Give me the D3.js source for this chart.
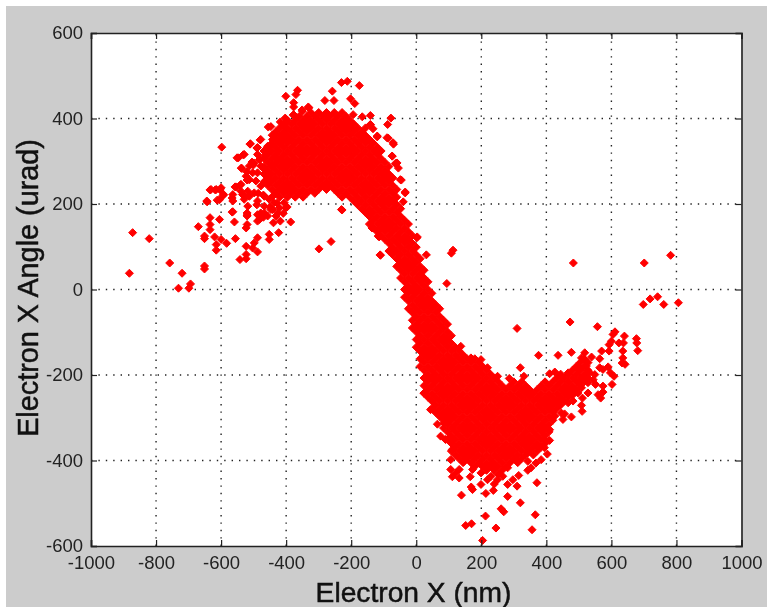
<!DOCTYPE html>
<html>
<head>
<meta charset="utf-8">
<script src="https://cdn.jsdelivr.net/npm/d3@7"></script>
<style>
  html, body { margin: 0; padding: 0; background: #fff; }
  svg { display: block; filter: blur(0.35px); }
</style>
</head>
<body>
<svg id="chart" width="767" height="607"></svg>
<script>
const xTicks = [-1000, -800, -600, -400, -200, 0, 200, 400, 600, 800, 1000];
const yTicks = [-600, -400, -200, 0, 200, 400, 600];

// isolated markers [nm, urad]
const looseX = [-872,-821,-882,-758,-720,-731,-694,-699,-651,-651,-670,-651,-651,-634,-634,-634,-620,-615,-615,-600,-583,-605,-556,-542,-523,-523,-523,-503,-488,-498,-488,-452,-452,-423,-439,-418,-386,-299,-262,-564,-559,-520,-520,-523,-488,-488,-467,-442,-426,-401,-644,-631,-615,-600,-605,-592,-564,-564,-554,-539,-534,-518,-518,-503,-536,-547,-529,-598,-510,-488,-478,-447,-437,-401,-365,-370,-377,-377,-377,-401,-406,-350,-330,-281,-253,-258,-230,-212,-175,-202,-189,-194,-166,-141,-141,-133,-88,-78,-120,-90,-71,-74,-59,-49,-34,-110,-117,-136,2,-230,-643,-634,-618,-603,-612,-594,-566,-566,-557,-541,-532,-520,-505,-538,-551,-532,-511,-480,-490,-501,-520,-486,-470,-490,-449,-520,-470,-443,-409,-397,-428,-455,-443,-418,-403,-378,-351,-332,-141,-120,-86,-70,-74,-64,-55,-46,-34,-40,3,31,-111,-114,-135,-228,94,113,108,698,719,742,761,806,701,782,483,310,473,557,611,605,600,593,623,640,637,677,678,681,635,635,633,642,570,593,564,477,436,376,320,250,286,331,410,426,518,539,508,564,590,597,608,574,549,544,551,602,574,574,559,567,528,511,508,510,482,477,451,456,410,403,394,384,368,343,353,343,315,297,281,310,371,281,320,261,269,366,356,245,213,170,152,204,139,173,169,199,214,237,219,240,166,106,106,132,121,111,132,75,65,137,
  -478,-498,-513,-488,-467,-457,-493,-513,-523,-478,-498,-467,-488,-452,-437,-467,-447,-421,-406,-478,-482,-457,-431,-518,-520,-529,-513,-539,-457,-442,-426,-467,-482,-457,-442,-421,-406,-488,
  446,436,467,497,482,508,528,533,523,518,497,467,426,451,415,508,
  24,44,85,90,111,147,173,199,230,250,266,281,312,343,374,394,410,168,199,219];
const looseY = [133,119,38,62,38,3,13,3,55,48,147,125,119,168,152,140,123,105,92,117,108,164,119,70,72,82,101,97,88,109,121,117,129,133,156,160,158,95,112,182,158,172,152,144,160,175,179,187,179,191,207,234,234,238,210,222,222,207,240,246,222,230,257,273,283,308,316,333,341,332,351,381,363,452,466,456,437,427,409,390,382,417,425,442,442,464,484,487,477,446,435,409,404,407,386,376,386,401,359,355,343,312,296,257,226,80,125,144,121,187,205,233,233,233,209,220,214,181,240,244,221,256,298,284,308,315,340,350,331,291,275,225,221,198,193,174,169,217,178,193,202,380,361,392,401,408,420,427,385,357,354,340,312,295,284,256,228,205,123,81,81,123,144,186,14,92,85,-35,-22,-17,-35,-31,62,80,62,-91,-76,-87,-99,-105,-121,-129,-125,-109,-125,-115,-125,-143,-144,-160,-172,-175,-144,-144,-162,-147,-154,-154,-183,-203,-208,-203,-197,-193,-148,-158,-160,-183,-181,-195,-203,-187,-199,-211,-222,-222,-226,-240,-246,-254,-242,-254,-271,-285,-261,-298,-304,-291,-353,-385,-370,-398,-406,-402,-417,-423,-435,-445,-456,-460,-452,-484,-499,-513,-520,-527,-562,-558,-530,-548,-552,-587,-481,-468,-462,-456,-477,-470,-445,-455,-438,-398,-421,-421,-429,-438,-441,-343,-315,-133,
  289,296,289,273,281,257,254,257,265,242,226,218,207,211,203,195,187,191,203,179,164,172,172,195,179,211,218,230,273,289,304,312,304,335,351,343,359,316,
  -289,-265,-265,-242,-246,-230,-218,-195,-179,-164,-179,-195,-296,-234,-281,-211,
  -242,-281,-312,-351,-374,-402,-421,-429,-437,-445,-437,-417,-402,-382,-367,-351,-328,-160,-164,-183];

// dense core, listed column by column: x in nm, then the angles seen in that column
const coreX = [-468,-456,-444,-432,-420,-408,-396,-384,-372,-360,-348,-336,-324,-312,-300,-288,-276,-264,-252,-240,-228,-216,-204,-192,-180,-168,-156,-144,-132,-120,-108,-96,-84,-72,-60,-48,-36,-24,-12,0,12,24,36,48,60,72,84,96,108,120,132,144,156,168,180,192,204,216,228,240,252,264,276,288,300,312,324,336,348,360,372,384,396,408,420,432,444,456,468,480,492,504,516,528];
const coreY = [
  [252,270,288,306,324],
  [243,261,279,297,315,333],
  [234,252,270,288,306,324,342],
  [225,243,261,279,297,315,333,351,369],
  [216,234,252,270,288,306,324,342,360,378],
  [225,243,261,279,297,315,333,351,369,387],
  [216,234,252,270,288,306,324,342,360,378,396],
  [225,243,261,279,297,315,333,351,369,387],
  [216,234,252,270,288,306,324,342,360,378,396],
  [225,243,261,279,297,315,333,351,369,387,405],
  [216,234,252,270,288,306,324,342,360,378,396],
  [225,243,261,279,297,315,333,351,369,387,405],
  [234,252,270,288,306,324,342,360,378,396,414],
  [225,243,261,279,297,315,333,351,369,387,405],
  [234,252,270,288,306,324,342,360,378,396,414],
  [243,261,279,297,315,333,351,369,387,405],
  [234,252,270,288,306,324,342,360,378,396,414],
  [243,261,279,297,315,333,351,369,387,405],
  [234,252,270,288,306,324,342,360,378,396,414],
  [225,243,261,279,297,315,333,351,369,387,405],
  [216,234,252,270,288,306,324,342,360,378,396,414],
  [225,243,261,279,297,315,333,351,369,387,405],
  [216,234,252,270,288,306,324,342,360,378,396],
  [207,225,243,261,279,297,315,333,351,369,387],
  [198,216,234,252,270,288,306,324,342,360,378],
  [189,207,225,243,261,279,297,315,333,351,369],
  [180,198,216,234,252,270,288,306,324,342,360,378],
  [153,171,189,207,225,243,261,279,297,315,333,351],
  [144,162,180,198,216,234,252,270,288,306,324,342],
  [135,153,171,189,207,225,243,261,279,297,315,333],
  [126,144,162,180,198,216,234,252,270,288,306,324],
  [117,135,153,171,189,207,225,243,261,279,297],
  [90,108,126,144,162,180,198,216,234,252,270,288],
  [81,99,117,135,153,171,189,207,225,243,261],
  [54,72,90,108,126,144,162,180,198,216,234],
  [27,45,63,81,99,117,135,153,171,189],
  [-18,0,18,36,54,72,90,108,126,144,162],
  [-45,-27,-9,9,27,45,63,81,99,117,135,153],
  [-90,-72,-54,-36,-18,0,18,36,54,72,90,108,126],
  [-135,-117,-99,-81,-63,-45,-27,-9,9,27,45,63,81,99],
  [-180,-162,-144,-126,-108,-90,-72,-54,-36,-18,0,18,36,54,72],
  [-243,-225,-207,-189,-171,-153,-135,-117,-99,-81,-63,-45,-27,-9,9,27,45],
  [-252,-234,-216,-198,-180,-162,-144,-126,-108,-90,-72,-54,-36,-18,0,18],
  [-279,-261,-243,-225,-207,-189,-171,-153,-135,-117,-99,-81,-63,-45,-27,-9],
  [-288,-270,-252,-234,-216,-198,-180,-162,-144,-126,-108,-90,-72,-54,-36],
  [-297,-279,-261,-243,-225,-207,-189,-171,-153,-135,-117,-99,-81,-63,-45],
  [-324,-306,-288,-270,-252,-234,-216,-198,-180,-162,-144,-126,-108,-90,-72],
  [-351,-333,-315,-297,-279,-261,-243,-225,-207,-189,-171,-153,-135,-117,-99,-81],
  [-378,-360,-342,-324,-306,-288,-270,-252,-234,-216,-198,-180,-162,-144,-126,-108],
  [-387,-369,-351,-333,-315,-297,-279,-261,-243,-225,-207,-189,-171,-153,-135],
  [-396,-378,-360,-342,-324,-306,-288,-270,-252,-234,-216,-198,-180,-162,-144],
  [-405,-387,-369,-351,-333,-315,-297,-279,-261,-243,-225,-207,-189,-171,-153],
  [-396,-378,-360,-342,-324,-306,-288,-270,-252,-234,-216,-198,-180,-162],
  [-405,-387,-369,-351,-333,-315,-297,-279,-261,-243,-225,-207,-189,-171],
  [-414,-396,-378,-360,-342,-324,-306,-288,-270,-252,-234,-216,-198,-180,-162],
  [-405,-387,-369,-351,-333,-315,-297,-279,-261,-243,-225,-207,-189,-171],
  [-414,-396,-378,-360,-342,-324,-306,-288,-270,-252,-234,-216,-198,-180],
  [-423,-405,-387,-369,-351,-333,-315,-297,-279,-261,-243,-225,-207,-189],
  [-414,-396,-378,-360,-342,-324,-306,-288,-270,-252,-234,-216,-198],
  [-423,-405,-387,-369,-351,-333,-315,-297,-279,-261,-243,-225,-207],
  [-432,-414,-396,-378,-360,-342,-324,-306,-288,-270,-252,-234,-216],
  [-423,-405,-387,-369,-351,-333,-315,-297,-279,-261,-243,-225],
  [-414,-396,-378,-360,-342,-324,-306,-288,-270,-252,-234],
  [-405,-387,-369,-351,-333,-315,-297,-279,-261,-243,-225],
  [-396,-378,-360,-342,-324,-306,-288,-270,-252,-234,-216],
  [-405,-387,-369,-351,-333,-315,-297,-279,-261,-243,-225],
  [-396,-378,-360,-342,-324,-306,-288,-270,-252,-234,-216],
  [-387,-369,-351,-333,-315,-297,-279,-261,-243,-225],
  [-378,-360,-342,-324,-306,-288,-270,-252,-234],
  [-387,-369,-351,-333,-315,-297,-279,-261,-243],
  [-378,-360,-342,-324,-306,-288,-270,-252,-234],
  [-369,-351,-333,-315,-297,-279,-261,-243,-225],
  [-360,-342,-324,-306,-288,-270,-252,-234,-216],
  [-333,-315,-297,-279,-261,-243,-225],
  [-306,-288,-270,-252,-234,-216],
  [-279,-261,-243,-225,-207],
  [-270,-252,-234,-216,-198],
  [-261,-243,-225,-207],
  [-252,-234,-216,-198],
  [-243,-225,-207,-189],
  [-234,-216,-198,-180],
  [-225,-207,-189,-171],
  [-216,-198,-180,-162],
  [-207,-189,-171]
];

const width = 767, height = 607;
const svg = d3.select('#chart');

// grey figure background, the picture has a thin white strip top and left
svg.append('rect').attr('x', 6).attr('y', 6).attr('width', width - 6).attr('height', height - 6).attr('fill', '#cccccc');

const xScale = d3.scaleLinear().domain([-1000, 1000]).range([91, 741.5]);
const yScale = d3.scaleLinear().domain([-600, 600]).range([546, 33]);

const g = svg.append('g');

g.append('rect')
  .attr('x', xScale.range()[0])
  .attr('y', yScale.range()[1])
  .attr('width', xScale.range()[1] - xScale.range()[0])
  .attr('height', yScale.range()[0] - yScale.range()[1])
  .attr('fill', '#fff');

// dotted grid
const gridStyle = sel => sel
  .attr('stroke', '#222')
  .attr('stroke-width', 1.4)
  .attr('stroke-dasharray', '1.4 6');

g.selectAll('.vgrid').data(xTicks.slice(1, -1)).join('line')
  .attr('class', 'vgrid')
  .attr('x1', d => xScale(d)).attr('x2', d => xScale(d))
  .attr('y1', yScale(-600)).attr('y2', yScale(600))
  .call(gridStyle);

g.selectAll('.hgrid').data(yTicks.slice(1, -1)).join('line')
  .attr('class', 'hgrid')
  .attr('y1', d => yScale(d)).attr('y2', d => yScale(d))
  .attr('x1', xScale(-1000)).attr('x2', xScale(1000))
  .call(gridStyle);

// markers
const diamond = { draw(ctx, size) { const r = Math.sqrt(size / 2); ctx.moveTo(0, -r); ctx.lineTo(r, 0); ctx.lineTo(0, r); ctx.lineTo(-r, 0); ctx.closePath(); } };
const markerPath = d3.symbol().type(diamond).size(32)();

const corePoints = coreX.flatMap((x, i) => coreY[i].map(y => ({ x, y })));
const loosePoints = looseX.map((x, i) => ({ x, y: looseY[i] }));

g.append('g').selectAll('path').data(corePoints.concat(loosePoints)).join('path')
  .attr('d', markerPath)
  .attr('fill', '#ff0000')
  .attr('stroke', '#ff0000')
  .attr('stroke-width', 1)
  .attr('transform', d => `translate(${xScale(d.x)},${yScale(d.y)})`);

// axes: ticks point inward on all four sides like the original
const axisFont = sel => sel
  .attr('font-family', '"Liberation Sans", Arial, sans-serif')
  .attr('font-size', 18.5)
  .attr('fill', '#222');

// plain hyphen on the negative labels, not d3's minus sign
const tickLabel = d => String(d);

const axisBottom = g.append('g').attr('transform', `translate(0,${yScale(-600)})`)
  .call(d3.axisBottom(xScale).tickValues(xTicks).tickSize(-6).tickPadding(10).tickFormat(tickLabel));
const axisTop = g.append('g').attr('transform', `translate(0,${yScale(600)})`)
  .call(d3.axisTop(xScale).tickValues(xTicks).tickSize(-6).tickFormat(''));
const axisLeft = g.append('g').attr('transform', `translate(${xScale(-1000)},0)`)
  .call(d3.axisLeft(yScale).tickValues(yTicks).tickSize(-6).tickPadding(8).tickFormat(tickLabel));
const axisRight = g.append('g').attr('transform', `translate(${xScale(1000)},0)`)
  .call(d3.axisRight(yScale).tickValues(yTicks).tickSize(-6).tickFormat(''));

[axisBottom, axisTop, axisLeft, axisRight].forEach(a => {
  a.selectAll('.domain').attr('stroke', '#222').attr('stroke-width', 1.6);
  a.selectAll('.tick line').attr('stroke', '#222').attr('stroke-width', 1.2);
  a.selectAll('text').call(axisFont);
});

// Labels
svg.append('text')
  .attr('x', 413.5)
  .attr('y', 602)
  .attr('text-anchor', 'middle')
  .attr('font-family', '"Liberation Sans", Arial, sans-serif')
  .attr('font-size', 28.2)
  .attr('fill', '#111')
  .attr('stroke', '#111')
  .attr('stroke-width', 0.5)
  .text('Electron X (nm)');

svg.append('text')
  .attr('transform', 'translate(38,288) rotate(-90)')
  .attr('text-anchor', 'middle')
  .attr('font-family', '"Liberation Sans", Arial, sans-serif')
  .attr('font-size', 28.8)
  .attr('fill', '#111')
  .attr('stroke', '#111')
  .attr('stroke-width', 0.5)
  .text('Electron X Angle (urad)');
</script>
</body>
</html>
